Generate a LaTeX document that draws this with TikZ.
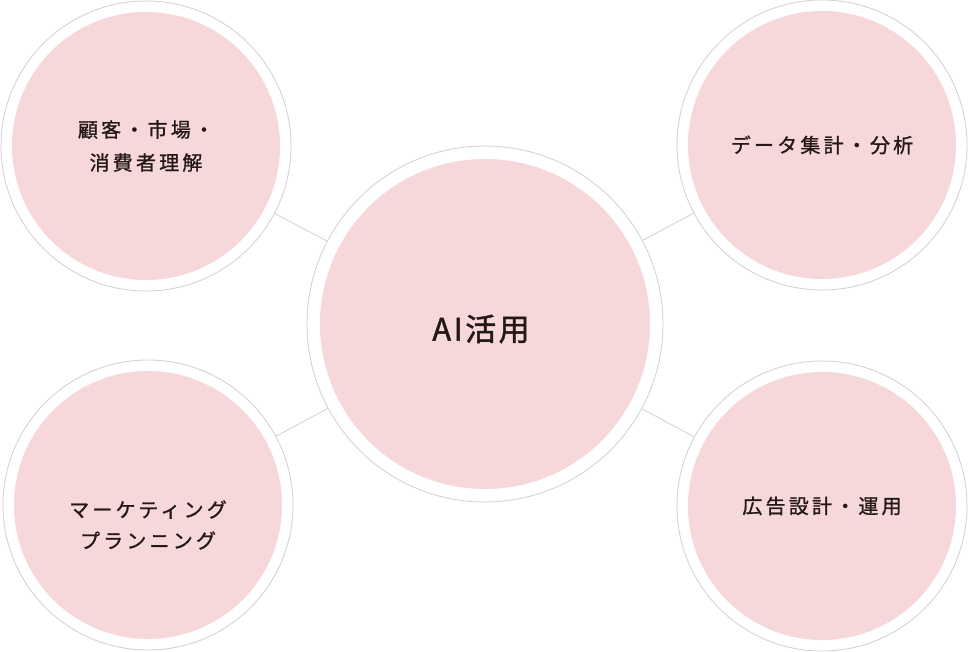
\documentclass[tikz,border=0pt]{standalone}
\usepackage{fontspec}
\newfontfamily\jpfont[LetterSpace=16,FakeBold=1.1]{Noto Sans CJK JP}
\newfontfamily\hubfont[LetterSpace=8,FakeBold=1.4]{Noto Sans CJK JP}
\definecolor{ringgray}{HTML}{D4D4D4}
\definecolor{blushpink}{HTML}{F7D8DA}
\definecolor{inkbrown}{HTML}{231815}
\tikzset{
  ring/.style={circle,draw=ringgray,line width=0.9pt,fill=white,inner sep=0pt,minimum size=#1},
  blob/.style={circle,fill=blushpink,inner sep=0pt,minimum size=#1,text=inkbrown,align=center,
    font=\jpfont\fontsize{20}{33}\selectfont},
  link/.style={draw=ringgray,line width=0.9pt}
}
\begin{document}
\begin{tikzpicture}[x=1pt,y=-1pt]
\useasboundingbox (0,0) rectangle (968,652);

  \node[ring=356pt] (hub) at (485,324) {};
  \node[ring=290pt] (custom) at (146,146) {};
  \node[ring=290pt] (data) at (822,145) {};
  \node[ring=290pt] (plan) at (148,505) {};
  \node[ring=290pt] (ads) at (822,506) {};

\draw[link] (custom)--(hub);
\draw[link] (data)--(hub);
\draw[link] (plan)--(hub);
\draw[link] (ads)--(hub);

  \node[blob=330pt] at (hub) {};
  \node[text=inkbrown,font=\hubfont\fontsize{31}{36}\selectfont] at ([xshift=-4pt,yshift=-5pt]hub.center) {AI活用};
  \node[blob=268pt] at (custom) {顧客・市場・\\消費者理解};
  \node[blob=268pt] at (data) {データ集計・分析};
  \node[blob=268pt] at (plan) {};
  \node[text=inkbrown,align=center,font=\jpfont\fontsize{20}{31}\selectfont] at ([yshift=-20pt]plan.center) {マーケティング\\プランニング};
  \node[blob=268pt] at (ads) {広告設計・運用};
\end{tikzpicture}
\end{document}
